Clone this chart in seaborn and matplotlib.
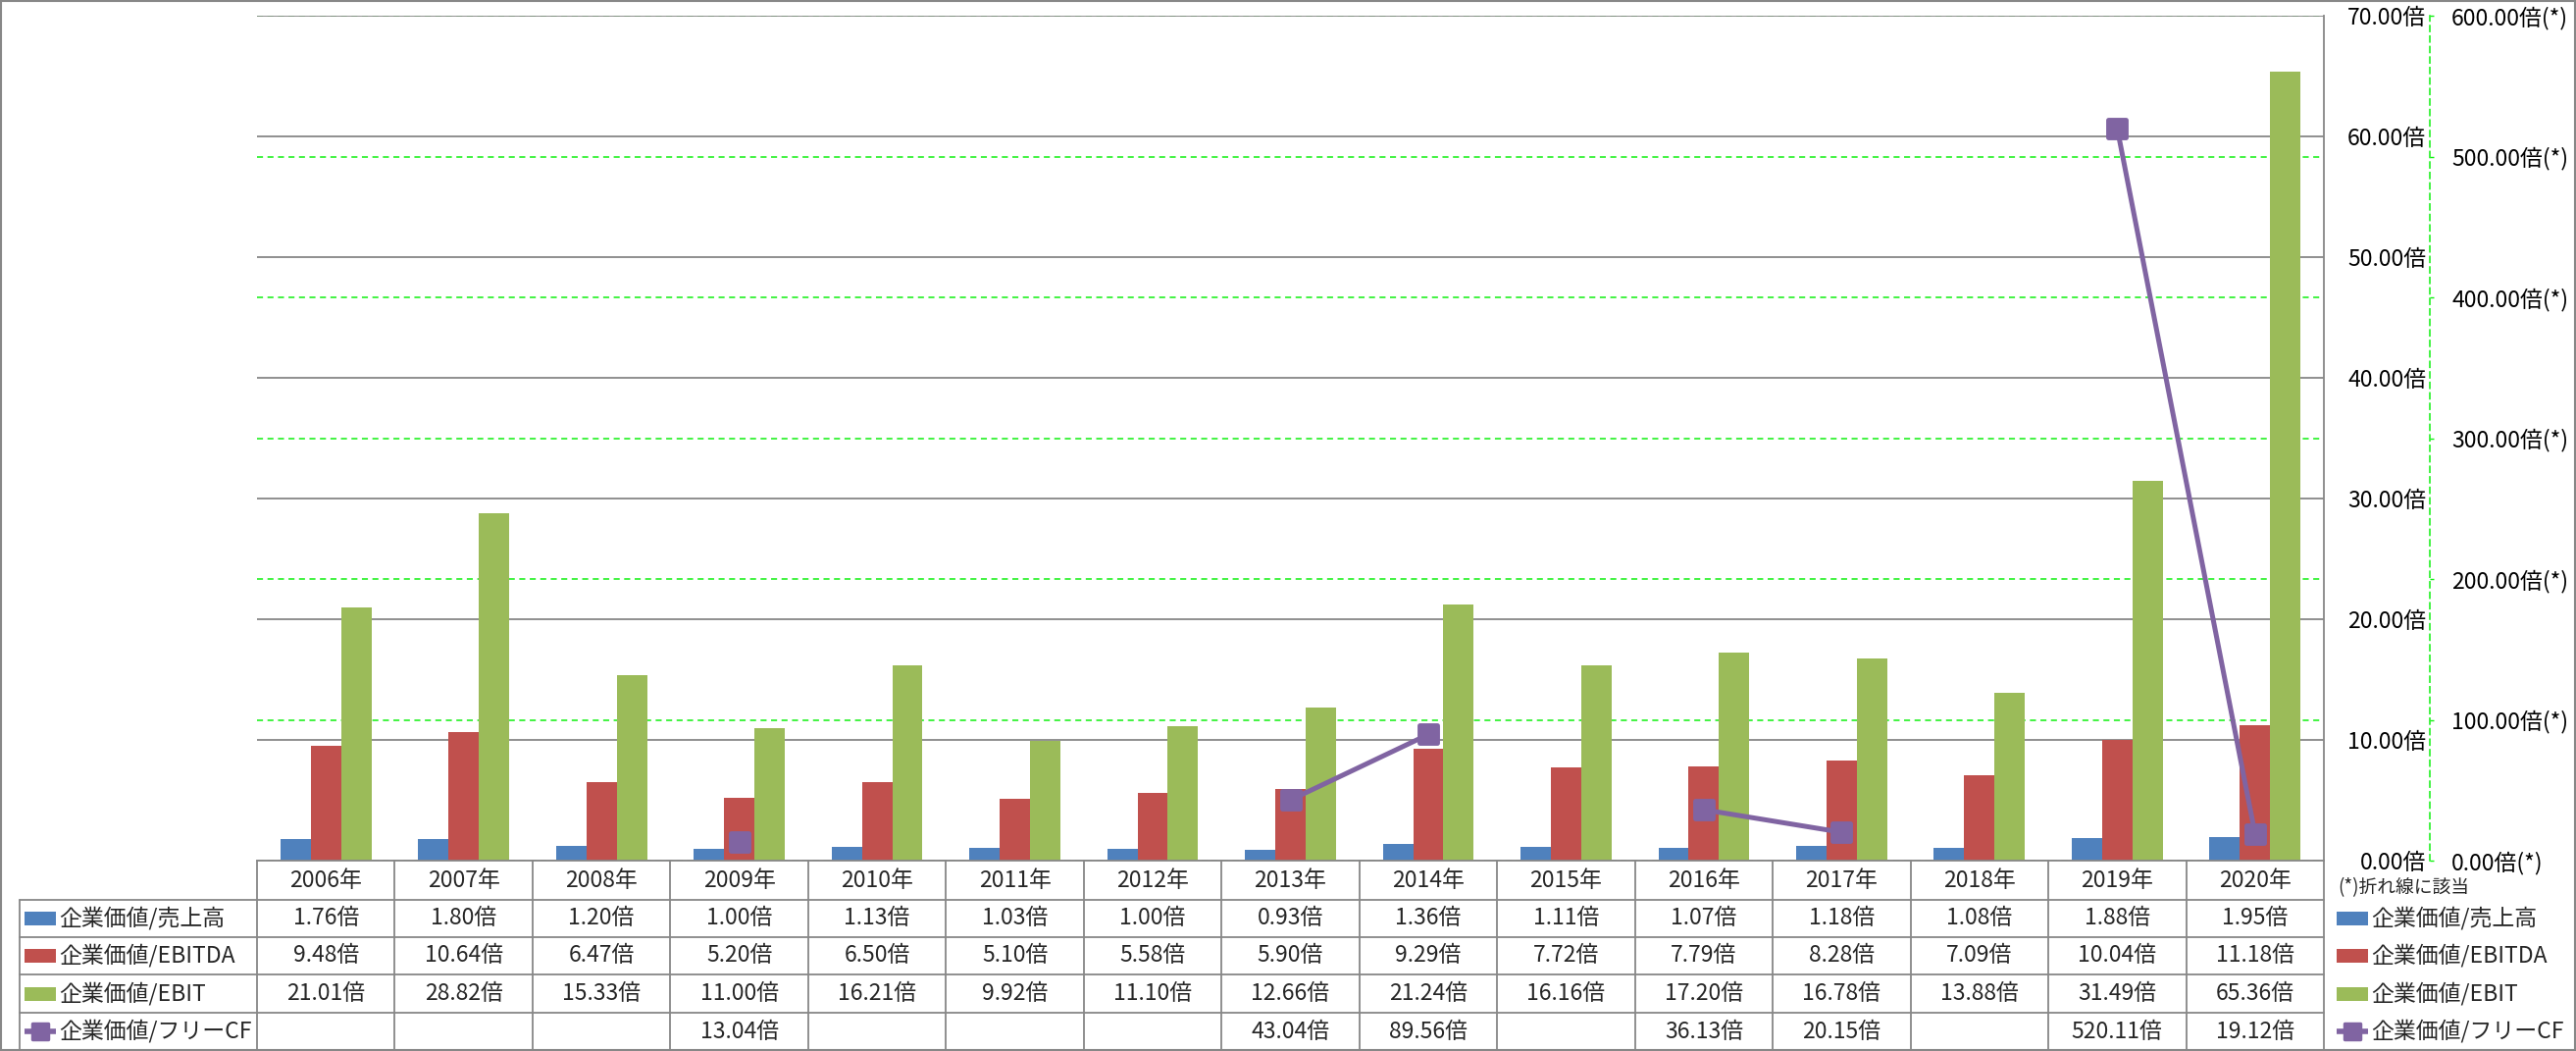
import numpy as np
import pandas as pd
import matplotlib
matplotlib.use('Agg')
import matplotlib.pyplot as plt
import seaborn as sns
from matplotlib.transforms import blended_transform_factory
from matplotlib.patches import Rectangle
from matplotlib.markers import MarkerStyle

# ---------------- data ----------------
years = ['2006年', '2007年', '2008年', '2009年', '2010年', '2011年', '2012年', '2013年',
         '2014年', '2015年', '2016年', '2017年', '2018年', '2019年', '2020年']
ev_sales = [1.76, 1.80, 1.20, 1.00, 1.13, 1.03, 1.00, 0.93, 1.36, 1.11, 1.07, 1.18, 1.08, 1.88, 1.95]
ev_ebitda = [9.48, 10.64, 6.47, 5.20, 6.50, 5.10, 5.58, 5.90, 9.29, 7.72, 7.79, 8.28, 7.09, 10.04, 11.18]
ev_ebit = [21.01, 28.82, 15.33, 11.00, 16.21, 9.92, 11.10, 12.66, 21.24, 16.16, 17.20, 16.78, 13.88, 31.49, 65.36]
nan = np.nan
ev_fcf = [nan, nan, nan, 13.04, nan, nan, nan, 43.04, 89.56, nan, 36.13, 20.15, nan, 520.11, 19.12]
series_names = ['企業価値/売上高', '企業価値/EBITDA', '企業価値/EBIT', '企業価値/フリーCF']
colors = ['#4F81BD', '#C0504D', '#9BBB59', '#8064A2']
primary_ticks = np.arange(0, 71, 10)
secondary_ticks = np.arange(0, 601, 100)
note_text = '(*)折れ線に該当'

# ---------------- style ----------------
sns.set_theme(style='white')
plt.rcParams['font.family'] = ['Noto Sans CJK JP', 'DejaVu Sans']
FS = 16.5
GRAY = '#878787'
GREEN = '#10F010'
rounded_square = MarkerStyle('s', joinstyle='round')

W, H = 2626, 1071
fig = plt.figure(figsize=(W / 100, H / 100), dpi=100)
fig.patch.set_facecolor('white')
L, R, T, B = 262, 2369, 16, 877
ax = fig.add_axes([L / W, 1 - B / H, (R - L) / W, (B - T) / H])
ax2 = ax.twinx()
ax3 = ax.twinx()
ax2.set_zorder(1)
ax.set_zorder(2)
ax3.set_zorder(3)
ax.patch.set_visible(False)
ax3.patch.set_visible(False)

# bars
df = pd.DataFrame({
    'year': years * 3,
    'series': [series_names[0]] * 15 + [series_names[1]] * 15 + [series_names[2]] * 15,
    'value': ev_sales + ev_ebitda + ev_ebit,
})
sns.barplot(data=df, x='year', y='value', hue='series', hue_order=series_names[:3],
            palette=colors[:3], width=0.66, saturation=1, errorbar=None,
            linewidth=0, legend=False, ax=ax)
ax.set_xlim(-0.5, 14.5)
ax.set_ylim(0, 70)
ax.set_xlabel('')
ax.set_ylabel('')
ax.set_xticks(range(len(years)))
ax.tick_params(axis='x', length=0, labelbottom=False)
ax.yaxis.tick_right()
ax.set_yticks(primary_ticks, labels=[f'{v:.2f}倍' for v in primary_ticks])
for lab in ax.get_yticklabels():
    lab.set_ha('right')
ax.tick_params(axis='y', length=0, pad=75, labelsize=FS, labelcolor='black')
ax.grid(axis='y', color=GRAY, lw=1.3)
ax.grid(axis='x', visible=False)
ax.set_axisbelow(True)
for s in ['left', 'top']:
    ax.spines[s].set_visible(False)
for s in ['right', 'bottom']:
    ax.spines[s].set_color(GRAY)
    ax.spines[s].set_linewidth(1.3)

# secondary axis (grid + labels)
ax2.set_ylim(0, 600)
ax2.set_yticks(secondary_ticks, labels=[f'{v:.2f}倍(*)' for v in secondary_ticks])
ax2.grid(axis='y', color=GREEN, lw=1.1, linestyle=(0, (4, 3)))
ax2.grid(axis='x', visible=False)
for s in ['left', 'top', 'bottom']:
    ax2.spines[s].set_visible(False)
ax2.spines['right'].set_position(('outward', 108 * 0.72))
ax2.spines['right'].set_linestyle((0, (4, 3)))
ax2.spines['right'].set_color(GREEN)
ax2.spines['right'].set_linewidth(1.1)
ax2.tick_params(axis='y', length=3, width=1, color=GREEN, pad=13, labelsize=FS, labelcolor='black')

# line on secondary scale, drawn on top of bars
ax3.set_ylim(0, 600)
ax3.plot(range(len(years)), ev_fcf, color=colors[3], lw=3.6, marker=rounded_square, ms=13,
         mew=3.5, mfc=colors[3], mec=colors[3], solid_joinstyle='round')
ax3.axis('off')

# ---------------- overlay: data table, legends, frame ----------------
ov = fig.add_axes([0, 0, 1, 1])
ov.set_xlim(0, W)
ov.set_ylim(H, 0)
ov.axis('off')
ov.set_zorder(5)
ov.patch.set_visible(False)
blend = blended_transform_factory(ax.transData, ov.transData)

rows = [877, 917, 955, 993, 1032, 1070]
TL = 20
for xb in np.arange(-0.5, len(years), 1.0):
    ov.plot([xb, xb], [rows[0], rows[-1]], transform=blend, color=GRAY, lw=1.3, clip_on=False)
for y in rows[1:]:
    ov.plot([TL, R], [y, y], color=GRAY, lw=1.3)
ov.plot([TL, TL], [rows[1], rows[-1]], color=GRAY, lw=1.3)

hy = (rows[0] + rows[1]) / 2
for i, yr in enumerate(years):
    ov.text(i, hy, yr, transform=blend, ha='center', va='center', fontsize=FS)

values = [ev_sales, ev_ebitda, ev_ebit, ev_fcf]
for r, vals in enumerate(values):
    yc = (rows[r + 1] + rows[r + 2]) / 2
    for i, v in enumerate(vals):
        if not np.isnan(v):
            ov.text(i, yc, f'{v:.2f}倍', transform=blend, ha='center', va='center', fontsize=FS)


def legend_key(x0, yc, r):
    if r < 3:
        ov.add_patch(Rectangle((x0, yc - 7), 32, 14, color=colors[r], lw=0))
    else:
        ov.plot([x0, x0 + 32], [yc, yc], color=colors[r], lw=4, solid_capstyle='butt')
        ov.plot([x0 + 16], [yc], marker=rounded_square, ms=11, mew=2.5, color=colors[r])


for r in range(4):
    yc = (rows[r + 1] + rows[r + 2]) / 2
    legend_key(25, yc, r)
    ov.text(60, yc, series_names[r], ha='left', va='center', fontsize=FS)
    legend_key(2382, yc, r)
    ov.text(2417, yc, series_names[r], ha='left', va='center', fontsize=FS)

ov.text(2383, 905, note_text, ha='left', va='center', fontsize=13.5)

ov.add_patch(Rectangle((1, 1), W - 2, H - 2, fill=False, edgecolor=GRAY, lw=1.5))

fig.savefig('out.png', dpi=100, facecolor='white')
